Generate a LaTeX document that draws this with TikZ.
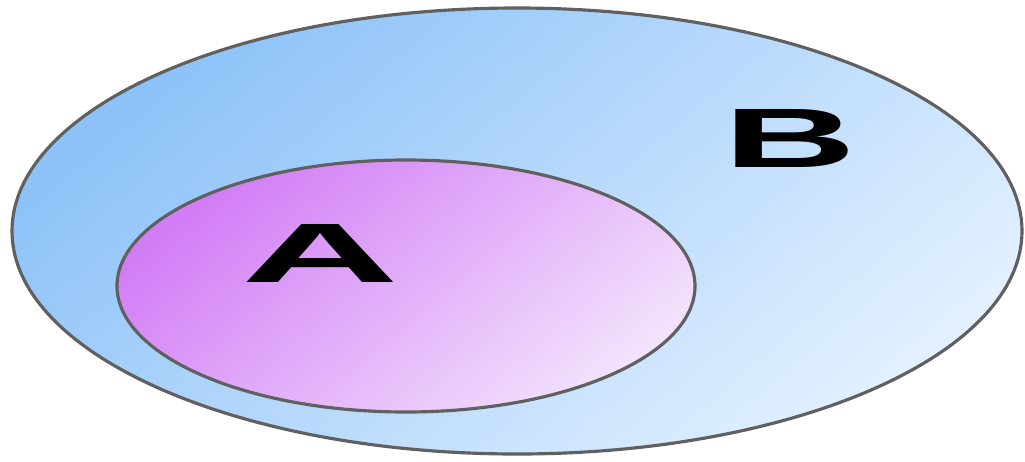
\documentclass[tikz,border=0pt]{standalone}
\usepackage{fontspec}
\setsansfont{Liberation Sans}
\usepackage{xcolor}
\usetikzlibrary{positioning, shapes.geometric}

\definecolor{setBdark}{HTML}{8CC2F8}
\definecolor{setBlight}{HTML}{E2F0FF}
\definecolor{setAdark}{HTML}{D27CF6}
\definecolor{setAlight}{HTML}{F2E2FC}

\begin{document}
\begin{tikzpicture}[
    setring/.style={
        ellipse,
        draw=gray!75!black,
        line width=0.9pt,
        inner sep=0pt
    },
    setB/.style={
        setring,
        minimum width=10.1cm,
        minimum height=4.46cm,
        top color=setBdark,
        bottom color=setBlight,
        shading angle=40
    },
    setA/.style={
        setring,
        minimum width=5.78cm,
        minimum height=2.52cm,
        top color=setAdark,
        bottom color=setAlight,
        shading angle=40
    },
    setlabel/.style={
        font=\sffamily\bfseries\fontsize{24}{28}\selectfont,
        xscale=2.4,
        inner sep=0pt
    }
]

\useasboundingbox (0,0) rectangle (10.25,4.61);

\node[setB] (B) at (5.17,2.30) {};
\node[setA] (A) at (4.06,1.75) {};

\node[setlabel, xscale=1.08] (labelA) at (3.20,2.08) {A};
\node[setlabel, xscale=0.91] (labelB) at (7.90,3.23) {B};

\end{tikzpicture}
\end{document}
